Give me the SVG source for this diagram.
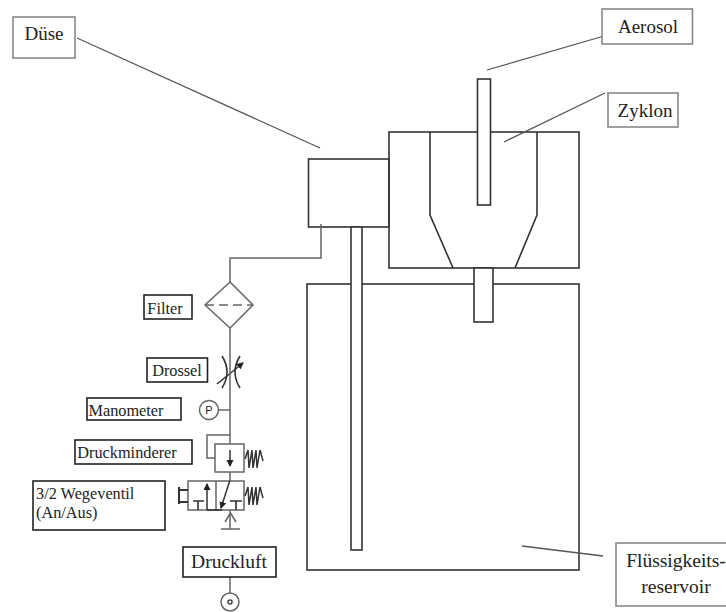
<svg xmlns="http://www.w3.org/2000/svg" width="726" height="612" viewBox="0 0 726 612">
<style>
.s{fill:none;stroke:#333;stroke-width:1.6}
.b{fill:#fff;stroke:#333;stroke-width:1.6}
.g{fill:none;stroke:#666;stroke-width:1.5}
.d{fill:none;stroke:#333;stroke-width:1.6}
.lb{fill:#fff;stroke:#222;stroke-width:1.6}
.lg{fill:#fff;stroke:#888;stroke-width:1.6}
.l{fill:none;stroke:#555;stroke-width:1.3}
text{font-family:"Liberation Serif","Times New Roman",serif;fill:#222;text-anchor:middle}
.t{font-size:19px}
.u{font-size:16.3px}
</style>
<defs>
<marker id="ah" markerWidth="8" markerHeight="8" refX="6" refY="3.500" orient="auto" markerUnits="userSpaceOnUse"><path d="M0 0L7 3.500L0 7z" fill="#222"/></marker>
<path id="spr" d="M0 10L3 1L4 19L7 1L8 19L11 1L12 19L15 1L18 12" fill="none" stroke="#333" stroke-width="1.500"/>
</defs>
<rect width="726" height="612" fill="#fff"/>
<g id="reservoir"><rect class="s" x="307" y="284" width="272" height="286"/></g>
<g id="zyklon">
<rect class="b" x="389" y="132" width="190" height="136"/>
<path class="s" d="M430 132V215L453 268M537 132V215L515 268"/>
<rect class="b" x="477.500" y="79" width="13" height="126"/>
<rect class="b" x="474" y="268" width="19" height="54"/>
</g>
<g id="duese">
<rect class="s" x="308.500" y="159" width="80.500" height="68"/>
<rect class="b" x="351" y="227" width="11" height="323"/>
</g>
<g id="filter">
<path class="g" d="M230 282L253 305L230 328L205 305Z"/>
<path class="g" d="M205 305H253" stroke-dasharray="9 5"/>
</g>
<g id="drossel">
<path class="d" d="M222 356Q232 372 222 388M240 356Q230 372 240 388"/>
<path d="M217 384L243 363" fill="none" stroke="#333" stroke-width="1.500" marker-end="url(#ah)"/>
</g>
<g id="manometer">
<circle class="g" cx="209" cy="410" r="9.500"/>
<text x="209" y="414" style="font-size:11px;font-family:'Liberation Sans',sans-serif">P</text>
</g>
<g id="druckminderer">
<rect class="g" x="215" y="444" width="29" height="28"/>
<path d="M230 450V466" fill="none" stroke="#333" stroke-width="1.500" marker-end="url(#ah)"/>
<use href="#spr" x="245" y="449"/>
</g>
<g id="wegeventil">
<rect class="g" x="188" y="481" width="56" height="29"/>
<path class="g" d="M216 481V510"/>
<path class="d" d="M193 501H204M198 501V510M230 501H242M236 501V510"/>
<path class="d" d="M207 510H222" stroke-width="2"/>
<path d="M207 510V484" fill="none" stroke="#333" stroke-width="1.500" marker-end="url(#ah)"/>
<path d="M230 480L221 508" fill="none" stroke="#333" stroke-width="1.500" marker-end="url(#ah)"/>
<path d="M188 490H179M179 487V504M179 502H188" fill="none" stroke="#333" stroke-width="2"/>
<use href="#spr" x="245" y="486"/>
<path class="g" d="M230 510V529M225 522L230.500 513L236 522M221 529H240"/>
</g>
<g id="quelle">
<circle class="g" cx="230" cy="602" r="9"/>
<circle cx="230" cy="602" r="2" fill="none" stroke="#444" stroke-width="1.500"/>
</g>
<g id="connectors">
<path class="l" d="M77 38L320 148"/>
<path class="l" d="M604 36L487 70"/>
<path class="l" d="M605 93L504 142"/>
<path class="l" d="M522 546L603 556"/>
<path class="g" d="M321 224V258H230V282"/>
<path class="g" d="M230 328V444"/>
<path class="g" d="M219 410H230"/>
<path class="g" d="M230 435H207V458H215"/>
<path class="g" d="M230 472V481"/>
<path class="g" d="M230 577V593"/>
</g>
<g id="label-duese"><rect class="lg" x="13" y="17" width="62" height="41"/><text class="t" x="44" y="40">Düse</text></g>
<g id="label-aerosol"><rect class="lg" x="602" y="9" width="90.500" height="35"/><text class="t" x="648" y="33">Aerosol</text></g>
<g id="label-zyklon"><rect class="lg" x="608" y="93" width="70" height="34"/><text class="t" x="645" y="117">Zyklon</text></g>
<g id="label-reservoir"><rect class="lg" x="616" y="543" width="115" height="63"/><text class="t" x="676" y="567" style="font-size:19.500px">Flüssigkeits-</text><text class="t" x="676" y="593" style="font-size:19.500px">reservoir</text></g>
<g id="label-filter"><rect class="lb" x="144" y="295" width="48" height="24"/><text class="u" x="165" y="314">Filter</text></g>
<g id="label-drossel"><rect class="lb" x="147" y="358" width="60.500" height="24"/><text class="u" x="177" y="376">Drossel</text></g>
<g id="label-manometer"><rect class="lb" x="87" y="398" width="94" height="22"/><text class="u" x="126" y="416">Manometer</text></g>
<g id="label-druckminderer"><rect class="lb" x="75" y="440" width="117" height="24"/><text class="u" x="127" y="458">Druckminderer</text></g>
<g id="label-wegeventil"><rect class="lb" x="33" y="481" width="132" height="49"/><text class="u" x="36" y="499" style="text-anchor:start">3/2 Wegeventil</text><text class="u" x="36" y="518" style="text-anchor:start">(An/Aus)</text></g>
<g id="label-druckluft"><rect class="lb" x="183" y="547" width="93" height="30"/><text class="t" x="229" y="568" style="font-size:19.500px">Druckluft</text></g>
</svg>
